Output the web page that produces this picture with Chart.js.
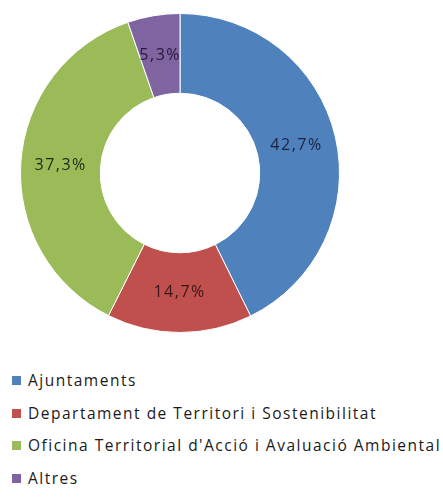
<!DOCTYPE html>
<html>
<head>
<meta charset="utf-8">
<script src="https://cdn.jsdelivr.net/npm/chart.js@4"></script>
<style>
  html, body { margin: 0; padding: 0; background: #fff; width: 443px; height: 500px; overflow: hidden; }
  #chartBox { position: absolute; left: 20px; top: 13px; width: 320px; height: 320px; }
  #legend { position: absolute; left: 12px; top: 369px; margin: 0; padding: 0; list-style: none;
            font-family: "Open Sans", sans-serif; font-size: 15.5px; letter-spacing: 1.5px; color: #1a1a1a; }
  #legend li { height: 32.5px; line-height: 22px; white-space: nowrap; }
  #legend span.box { display: inline-block; width: 9px; height: 9px; margin-right: 7px; vertical-align: 1px; }
</style>
</head>
<body>
<div id="chartBox"><canvas id="donutChart"></canvas></div>
<ul id="legend"></ul>
<script>
// dades del gràfic
const categories = ['Ajuntaments', 'Departament de Territori i Sostenibilitat', "Oficina Territorial d'Acció i Avaluació Ambiental", 'Altres'];
const percentages = [42.7, 14.7, 37.3, 5.3];
const sliceColors = ['#4F81BD', '#C0504D', '#9BBB59', '#8064A2'];
const labelColors = ['#1b2340', '#3a1616', '#1f2a12', '#24193a'];

// etiquetes amb el percentatge dins de cada sector
const sliceLabels = {
    id: 'sliceLabels',
    afterDatasetsDraw(chart) {
        const ctx = chart.ctx;
        const meta = chart.getDatasetMeta(0);
        ctx.save();
        ctx.font = '16px "Open Sans", sans-serif';
        ctx.letterSpacing = '1.5px';
        ctx.textAlign = 'center';
        ctx.textBaseline = 'middle';
        meta.data.forEach((arc, i) => {
            const pos = arc.tooltipPosition();
            ctx.fillStyle = labelColors[i];
            ctx.fillText(percentages[i].toFixed(1).replace('.', ',') + '%', pos.x, pos.y);
        });
        ctx.restore();
    }
};

new Chart(document.getElementById('donutChart'), {
    type: 'doughnut',
    data: {
        labels: categories,
        datasets: [{
            data: percentages,
            backgroundColor: sliceColors,
            borderColor: '#ffffff',
            borderWidth: 1
        }]
    },
    options: {
        responsive: true,
        maintainAspectRatio: false,
        animation: false,
        cutout: '50%',
        layout: { padding: 0 },
        plugins: {
            legend: { display: false },
            tooltip: { enabled: false }
        }
    },
    plugins: [sliceLabels]
});

// llegenda vertical
const legend = document.getElementById('legend');
categories.forEach((name, i) => {
    const li = document.createElement('li');
    const box = document.createElement('span');
    box.className = 'box';
    box.style.background = sliceColors[i];
    li.appendChild(box);
    li.appendChild(document.createTextNode(name));
    legend.appendChild(li);
});
</script>
</body>
</html>
